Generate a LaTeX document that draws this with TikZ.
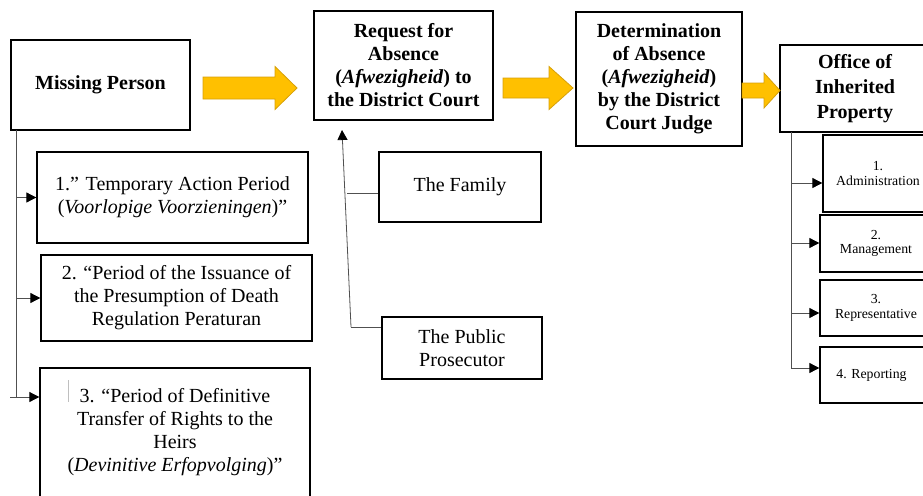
\documentclass[tikz,border=0pt]{standalone}
\usepackage{fontspec}
\setmainfont{Liberation Serif}
\usetikzlibrary{arrows.meta}
\definecolor{arrfill}{RGB}{255,192,0}
\definecolor{arrline}{RGB}{214,160,10}
\definecolor{connline}{RGB}{80,80,80}
\tikzset{
  boxx/.style={draw=black, line width=1.3pt, inner sep=0pt, align=center, font=\fontsize{20}{23}\selectfont},
  hdr/.style={boxx, font=\fontsize{20}{23}\selectfont\bfseries},
  smallbox/.style={draw=black, line width=1.3pt, inner sep=0pt, align=center, font=\fontsize{13.8}{14.5}\selectfont},
  conn/.style={draw=connline, line width=0.8pt},
  arr/.style={conn, -{Triangle[length=10pt,width=10pt,fill=black,color=black]}},
  blockarrow/.style={fill=arrfill, draw=arrline, line width=0.8pt, line join=miter}
}
\begin{document}
\begin{tikzpicture}[x=1pt,y=-1pt]
\useasboundingbox (0,0) rectangle (923,495);
\clip (0,0) rectangle (923,495);
% main headers
\node[hdr, minimum width=179, minimum height=90] (mp) at (100.5,85) {Missing Person};
\node[hdr, minimum width=179, minimum height=109] (req) at (403.5,65.5) {Request for\\Absence\\(\textit{Afwezigheid}) to\\the District Court};
\node[hdr, minimum width=166, minimum height=134] (det) at (659,79) {Determination\\of Absence\\(\textit{Afwezigheid})\\by the District\\Court Judge};
\node[hdr, font=\fontsize{20}{25}\selectfont\bfseries, minimum width=150, minimum height=87] (off) at (855,88.5) {Office of\\Inherited\\Property};
% applicants
\node[boxx, minimum width=162, minimum height=70] (fam) at (460,187) {The Family};
\node[boxx, minimum width=160, minimum height=62] (pros) at (462,348) {The Public\\Prosecutor};
% periods
\node[boxx, minimum width=271, minimum height=91] (it1) at (172.5,197.5) {1.” Temporary Action Period\\(\textit{Voorlopige Voorzieningen})”};
\node[boxx, minimum width=271, minimum height=86] (it2) at (176.5,298) {2. “Period of the Issuance of\\the Presumption of Death\\Regulation Peraturan};
\node[boxx, minimum width=270, minimum height=129] (it3) at (175,432.5) {3. “Period of Definitive\\Transfer of Rights to the\\Heirs\\(\textit{Devinitive Erfopvolging})”};
\draw[black!25, line width=0.6pt] (68,380) -- (68,402);
% office tasks
\node[smallbox, minimum width=110, minimum height=77] (s1) at (878,173.5) {1.\\Administration};
\node[smallbox, minimum width=112, minimum height=57] (s2) at (876,243.5) {2.\\Management};
\node[smallbox, minimum width=112, minimum height=56] (s3) at (876,308) {3.\\Representative};
\node[smallbox, minimum width=112, minimum height=56] (s4) at (876,375) {4. Reporting\hspace*{9pt}};
% block arrows
\draw[blockarrow] (203,77) -- (275,77) -- (275,66.5) -- (297,88) -- (275,109.5) -- (275,99) -- (203,99) -- cycle;
\draw[blockarrow] (503,78) -- (549,78) -- (549,66.5) -- (573,88) -- (549,109.5) -- (549,98) -- (503,98) -- cycle;
\draw[blockarrow] (742,83) -- (764,83) -- (764,73) -- (780,90.5) -- (764,108) -- (764,98) -- (742,98) -- cycle;
% left tree
\coordinate (tl) at (16,130);
\coordinate (tlb) at (16,397);
\coordinate (a3) at (10,397);
\draw[conn] (tl) -- (tlb);
\draw[arr] (tl |- it1.west) -- (it1.west);
\draw[arr] (tl |- it2.west) -- (it2.west);
\draw[arr] (a3) -- (a3 -| it3.west);
% middle connectors
\coordinate (m0) at (351,327);
\coordinate (mtop) at (342,130);
\coordinate (m1) at (347,193);
\draw[conn] (m0 -| pros.west) -- (m0);
\draw[arr] (m0) -- (mtop);
\draw[conn] (m1) -- (m1 -| fam.west);
% right tree
\coordinate (tr) at (791,132);
\coordinate (r1) at (791,183);
\coordinate (r2) at (791,243);
\coordinate (r3) at (791,313);
\coordinate (r4) at (791,368);
\draw[conn] (tr) -- (r4);
\draw[arr] (r1) -- (r1 -| s1.west);
\draw[arr] (r2) -- (r2 -| s2.west);
\draw[arr] (r3) -- (r3 -| s3.west);
\draw[arr] (r4) -- (r4 -| s4.west);
\end{tikzpicture}
\end{document}
